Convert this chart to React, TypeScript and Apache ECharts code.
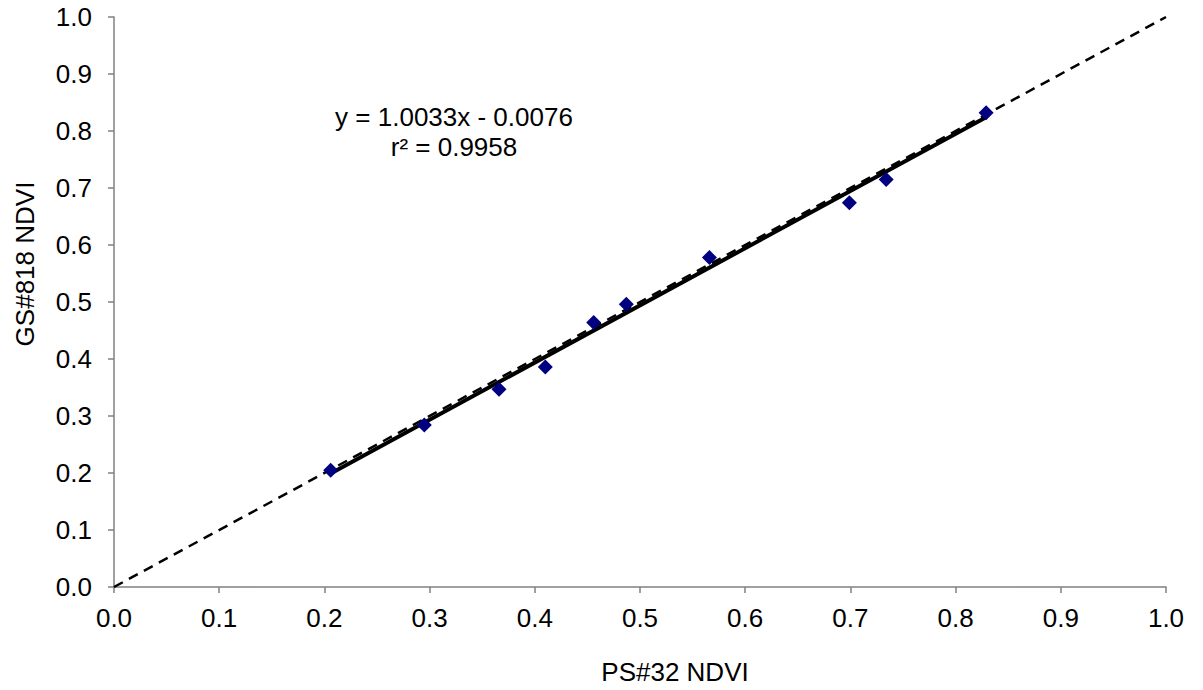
import React, { useEffect, useRef } from "react";
import * as echarts from "echarts";

const psNdvi = [0.206, 0.295, 0.366, 0.410, 0.456, 0.487, 0.566, 0.699, 0.734, 0.829];
const gsNdvi = [0.205, 0.284, 0.347, 0.386, 0.464, 0.496, 0.578, 0.674, 0.715, 0.832];
const oneToOne = [[0, 0], [1, 1]];
const slope = 1.0033;
const intercept = -0.0076;
const equationLines = ["y = 1.0033x - 0.0076", "r² = 0.9958"];
const xTitle = "PS#32 NDVI";
const yTitle = "GS#818 NDVI";

const FONT = "'Liberation Sans', Arial, sans-serif";
const FS = 26;

export default function App() {
  const ref = useRef<HTMLDivElement>(null);
  useEffect(() => {
    document.body.style.margin = "0";
    const chart = echarts.init(ref.current!, null, { renderer: "svg" });
    const xMin = Math.min(...psNdvi);
    const xMax = Math.max(...psNdvi);
    const trend = [
      [xMin, slope * xMin + intercept],
      [xMax, slope * xMax + intercept],
    ];
    const axisCommon = {
      type: "value" as const,
      min: 0,
      max: 1,
      interval: 0.1,
      splitLine: { show: false },
      axisLine: { show: true, lineStyle: { color: "#808080", width: 1.5 } },
      axisTick: { show: true, inside: false, length: 6, lineStyle: { color: "#808080", width: 1.5 } },
      axisLabel: {
        color: "#000",
        fontSize: FS,
        fontFamily: FONT,
        formatter: (v: number) => v.toFixed(1),
      },
    };
    const txt = (text: string, x: number, y: number, rot = 0) => ({
      type: "text",
      x,
      y,
      rotation: rot,
      style: {
        text,
        fontSize: FS,
        fontFamily: FONT,
        fill: "#000",
        textAlign: "center",
        textVerticalAlign: "middle",
      },
    });
    chart.setOption({
      animation: false,
      backgroundColor: "#fff",
      grid: { left: 114, top: 17, right: 37, bottom: 103, containLabel: false },
      xAxis: { ...axisCommon, axisLabel: { ...axisCommon.axisLabel, margin: 18 } },
      yAxis: { ...axisCommon, axisLabel: { ...axisCommon.axisLabel, margin: 22 } },
      series: [
        {
          type: "line",
          data: oneToOne,
          symbol: "none",
          lineStyle: { color: "#000", width: 2.5, type: [10, 7] },
          z: 2,
        },
        {
          type: "line",
          data: trend,
          symbol: "none",
          lineStyle: { color: "#000", width: 4 },
          z: 3,
        },
        {
          type: "scatter",
          data: psNdvi.map((x, i) => [x, gsNdvi[i]]),
          symbol: "diamond",
          symbolSize: [15, 15],
          itemStyle: { color: "#000080", opacity: 1 },
          z: 4,
        },
      ],
      graphic: [
        txt(equationLines[0], 454, 117),
        txt(equationLines[1], 454, 147),
        txt(xTitle, 675, 672),
        txt(yTitle, 25, 264, Math.PI / 2),
      ],
    });
    return () => chart.dispose();
  }, []);
  return <div ref={ref} style={{ width: 1203, height: 690 }} />;
}
